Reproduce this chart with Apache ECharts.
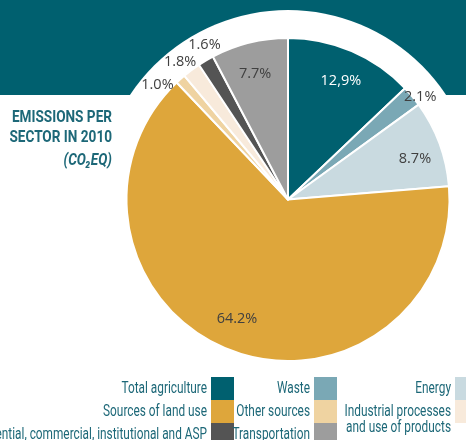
<!DOCTYPE html>
<html>
<head>
<meta charset="utf-8">
<script src="https://cdn.jsdelivr.net/npm/echarts@6/dist/echarts.min.js"></script>
<style>
  html, body { margin: 0; padding: 0; background: #ffffff; }
  #chart { width: 466px; height: 440px; }
</style>
</head>
<body>
<div id="chart"></div>
<script>
// Emissions per sector in 2010 (CO2 eq), share of total in percent
const sectors = [
  'Total agriculture',
  'Waste',
  'Energy',
  'Sources of land use',
  'Other sources',
  'Industrial processes\nand use of products',
  'Residential, commercial, institutional and ASP',
  'Transportation'
];
const shares = [12.9, 2.1, 8.7, 64.2, 1.0, 1.8, 1.6, 7.7];
const shareLabels = ['12,9%', '2.1%', '8.7%', '64.2%', '1.0%', '1.8%', '1.6%', '7.7%'];
const sectorColors = ['#00606f', '#7aa8b5', '#c9dae0', '#dea63b', '#efd3a1', '#f8eadb', '#545454', '#9d9d9d'];

// slices whose label sits on the rim rather than inside the slice
const rimLabel = [false, true, false, false, true, true, true, false];
const labelColors = ['#ffffff', '#404040', '#404040', '#404040', '#404040', '#404040', '#404040', '#404040'];
const labelNudge = [[2, 0], [0, 7], [6, 4], [-5, -1], [-16, 14], [-5, 0], [4, -7], [-2, 0]];

const TEAL = '#1d6878';
const center = [288, 199.5];
const radius = 161.5;

const chart = echarts.init(document.getElementById('chart'), null, { renderer: 'canvas' });

function labelSeries(r0, r1, onRim) {
  return {
    type: 'pie',
    silent: true,
    z: 5,
    center: center,
    radius: [r0, r1],
    startAngle: 90,
    clockwise: true,
    avoidLabelOverlap: false,
    animation: false,
    itemStyle: { color: 'rgba(0,0,0,0)', borderWidth: 0 },
    labelLine: { show: false },
    emphasis: { disabled: true },
    data: shares.map((v, i) => ({
      value: v,
      name: sectors[i],
      label: {
        show: rimLabel[i] === onRim,
        position: 'inside',
        formatter: shareLabels[i],
        color: labelColors[i],
        fontFamily: 'Open Sans',
        fontSize: 14.5,
        offset: labelNudge[i]
      }
    }))
  };
}

// legend laid out as a 3-column grid: text right-aligned against its swatch
const legendCols = [211, 314, 455];
const legendRows = [377, 400, 423];
const swatch = 23;
const legendItems = [];
sectors.forEach((name, i) => {
  const col = i % 3, row = Math.floor(i / 3);
  const sx = legendCols[col], sy = legendRows[row];
  legendItems.push({
    type: 'rect',
    shape: { x: sx, y: sy, width: swatch, height: swatch },
    style: { fill: sectorColors[i] },
    z: 10
  });
  legendItems.push({
    type: 'text',
    x: sx - 4,
    y: sy + 12 - 8,
    scaleX: 0.74,
    style: {
      text: name,
      fill: TEAL,
      font: '16px Roboto',
      align: 'right',
      verticalAlign: 'top',
      lineHeight: 16
    },
    z: 10
  });
});

const option = {
  backgroundColor: '#ffffff',
  animation: false,
  graphic: [
    // teal band with a white disc cut around the pie
    { type: 'rect', shape: { x: 0, y: 0, width: 466, height: 95 }, style: { fill: '#00606f' }, z: 0 },
    { type: 'circle', shape: { cx: center[0], cy: center[1], r: 189.5 }, style: { fill: '#ffffff' }, z: 1 },
    {
      type: 'text', x: 112, y: 118, scaleX: 0.8,
      style: { text: 'EMISSIONS PER', fill: TEAL, font: 'bold 17px Roboto', align: 'right', verticalAlign: 'middle' },
      z: 10
    },
    {
      type: 'text', x: 112, y: 138, scaleX: 0.8,
      style: { text: 'SECTOR IN 2010', fill: TEAL, font: 'bold 17px Roboto', align: 'right', verticalAlign: 'middle' },
      z: 10
    },
    {
      type: 'text', x: 112, y: 161, scaleX: 0.8,
      style: { text: '(CO₂EQ)', fill: TEAL, font: 'italic bold 17px Roboto', align: 'right', verticalAlign: 'middle' },
      z: 10
    }
  ].concat(legendItems),
  series: [
    {
      type: 'pie',
      z: 3,
      center: center,
      radius: [0, radius],
      startAngle: 90,
      clockwise: true,
      silent: true,
      label: { show: false },
      labelLine: { show: false },
      itemStyle: { borderColor: '#ffffff', borderWidth: 2 },
      data: shares.map((v, i) => ({ value: v, name: sectors[i], itemStyle: { color: sectorColors[i] } }))
    },
    labelSeries(90, 162, false),
    labelSeries(156, 182, true)
  ]
};

chart.setOption(option);
</script>
</body>
</html>
